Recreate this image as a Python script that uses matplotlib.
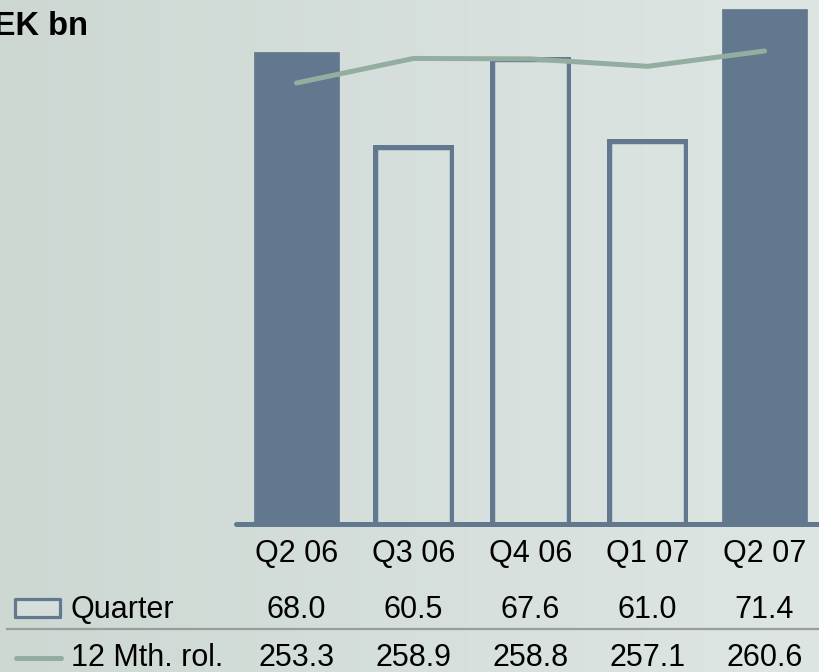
import numpy as np
import matplotlib
matplotlib.use("Agg")
import matplotlib.pyplot as plt
from matplotlib.patches import Rectangle
from matplotlib.lines import Line2D
import matplotlib.transforms as mtransforms

plt.rcParams['font.family'] = ['Liberation Sans', 'DejaVu Sans']

# ---- data ----
quarters = ["Q2 06", "Q3 06", "Q4 06", "Q1 07", "Q2 07"]
quarter_values = [68.0, 60.5, 67.6, 61.0, 71.4]
rolling_values = [253.3, 258.9, 258.8, 257.1, 260.6]
filled = [True, False, False, False, True]
row_labels = ["Quarter", "12 Mth. rol."]
unit_label = "SEK bn"

W, H = 820, 672
fig = plt.figure(figsize=(W / 100, H / 100), dpi=100)

# background gradient
bg = fig.add_axes([0, 0, 1, 1], zorder=-10)
c0 = np.array([205, 216, 211]) / 255
c1 = np.array([222, 230, 227]) / 255
t = np.linspace(0, 1, 256)
grad = (c0[None, :] * (1 - t[:, None]) + c1[None, :] * t[:, None])[None, :, :]
bg.imshow(grad, aspect='auto', extent=[0, 1, 0, 1])
bg.axis('off')

def fx(px):
    return px / W

def fy(py):
    return 1 - py / H

slate = "#62788F"
green = "#93AEA0"

base_y = 524.5
ax_left = 236
ax = fig.add_axes([fx(ax_left), fy(base_y), (W - ax_left) / W, base_y / H])
ax.set_facecolor('none')
for s in ax.spines.values():
    s.set_visible(False)
ax.set_xticks([])
ax.set_yticks([])

x = np.arange(len(quarters))
ax.set_xlim(-0.517, 4.474)
ax.set_ylim(30.0, 72.16)
ybot = ax.get_ylim()[0]

for i, (v, f) in enumerate(zip(quarter_values, filled)):
    if f:
        ax.bar(i, v, width=0.72, color=slate, edgecolor=slate, linewidth=0.5,
               zorder=2)
    else:
        bars = ax.bar(i, v, width=0.70, facecolor='none', edgecolor=slate,
                      linewidth=6.8, zorder=2)
        for r in bars:
            # stroke drawn inside the bar outline only
            r.set_clip_box(mtransforms.TransformedBbox(
                mtransforms.Bbox([[r.get_x(), ybot],
                                  [r.get_x() + r.get_width(), r.get_height()]]),
                ax.transData))

# baseline
ax.plot([-0.517, 4.6], [ybot, ybot], color=slate, lw=3.6,
        solid_capstyle='round', clip_on=False, zorder=3)

ax2 = ax.twinx()
ax2.set_ylim(152.6, 272.23)
ax2.set_facecolor('none')
for s in ax2.spines.values():
    s.set_visible(False)
ax2.set_yticks([])
ax2.plot(x, rolling_values, color=green, lw=3.6, solid_capstyle='round',
         solid_joinstyle='round', zorder=4)

# title
fig.text(fx(88), fy(35), unit_label, ha='right', va='baseline',
         fontsize=23.5, fontweight='bold', color='black')

# category labels and table
tr = mtransforms.blended_transform_factory(ax.transData, fig.transFigure)
fs = 22
for i, q in enumerate(quarters):
    ax.text(i, fy(562), q, transform=tr, ha='center', va='baseline',
            fontsize=fs, clip_on=False)
    ax.text(i, fy(618), f"{quarter_values[i]:.1f}", transform=tr,
            ha='center', va='baseline', fontsize=fs, clip_on=False)
    ax.text(i, fy(665.5), f"{rolling_values[i]:.1f}", transform=tr,
            ha='center', va='baseline', fontsize=fs, clip_on=False)

fig.text(fx(71), fy(618), row_labels[0], ha='left', va='baseline', fontsize=fs)
fig.text(fx(71), fy(665.5), row_labels[1], ha='left', va='baseline', fontsize=fs)

# separator line
fig.add_artist(Line2D([fx(7), 1.0], [fy(629), fy(629)], color='#9C9C9C',
                      lw=1.6, transform=fig.transFigure))

# legend icons
fig.add_artist(Rectangle((fx(15.5), fy(616.5)), (62 - 17) / W, (616.5 - 598.5) / H,
                         transform=fig.transFigure, facecolor='#D6DEDB',
                         edgecolor=slate, lw=2.3, joinstyle='round'))
fig.add_artist(Line2D([fx(16), fx(61)], [fy(658), fy(658)], color=green,
                      lw=3.6, solid_capstyle='round', transform=fig.transFigure))

fig.savefig("out.png", dpi=100)
